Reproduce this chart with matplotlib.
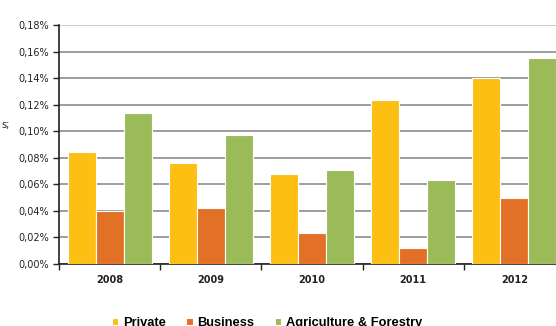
import matplotlib
matplotlib.use("Agg")
import matplotlib.pyplot as plt
import numpy as np
from matplotlib.ticker import FuncFormatter, FixedLocator

years = ["2008", "2009", "2010", "2011", "2012"]
private = [0.084, 0.076, 0.068, 0.1235, 0.140]
business = [0.040, 0.042, 0.023, 0.012, 0.0495]
agri_forestry = [0.114, 0.097, 0.071, 0.063, 0.155]
series_names = ["Private", "Business", "Agriculture & Forestry"]
colors = ["#FCBF12", "#E27027", "#9BBB59"]

fig = plt.figure(figsize=(5.56, 3.26), dpi=100)
W, H = 556, 326
left, right, top, bottom = 59, 565, 25, 264
ax = fig.add_axes([left / W, 1 - bottom / H, (right - left) / W, (bottom - top) / H])

x = np.arange(len(years))
bw = 0.277
for i, (vals, name, c) in enumerate(zip([private, business, agri_forestry], series_names, colors)):
    ax.bar(x + (i - 1) * bw, vals, width=bw, color=c, edgecolor="white", linewidth=0.8,
           label=name, zorder=3)

ax.set_xlim(-0.5, len(years) - 0.5)
ax.set_ylim(0, 0.18)
ax.set_yticks(np.arange(0, 0.181, 0.02))
ax.yaxis.set_major_formatter(FuncFormatter(lambda v, p: f"{v:.2f}%".replace(".", ",")))
ax.yaxis.grid(True, color="#8c8c8c", linewidth=1.2, zorder=0)
ax.get_ygridlines()[-1].set_color("#c4c4c4")
ax.set_axisbelow(True)

ax.set_xticks(x)
ax.set_xticklabels(years, fontsize=7, fontweight="bold", color="#222222")
ax.xaxis.set_minor_locator(FixedLocator(np.arange(-0.5, len(years), 1)))
ax.tick_params(axis="x", which="major", length=0, pad=8)
ax.tick_params(axis="x", which="minor", length=4, width=1, color="#222222")
ax.tick_params(axis="y", length=4, width=1, color="#222222", labelsize=7, pad=3,
               labelcolor="#222222")

for s in ["top", "right"]:
    ax.spines[s].set_visible(False)
for s in ["left", "bottom"]:
    ax.spines[s].set_color("#222222")
    ax.spines[s].set_linewidth(1.2)

fig.text(10 / W, 1 - 125 / H, "s;", ha="right", va="center", fontsize=7, color="#222222")

leg = fig.legend(*ax.get_legend_handles_labels(), loc="center", ncol=3,
                 bbox_to_anchor=(267 / W, 1 - 323 / H), frameon=False,
                 prop={"family": "Liberation Sans", "weight": "bold", "size": 9.3},
                 handlelength=0.5, handleheight=0.5,
                 handletextpad=0.35, columnspacing=1.6, borderpad=0)

fig.savefig("out.png", dpi=100)
